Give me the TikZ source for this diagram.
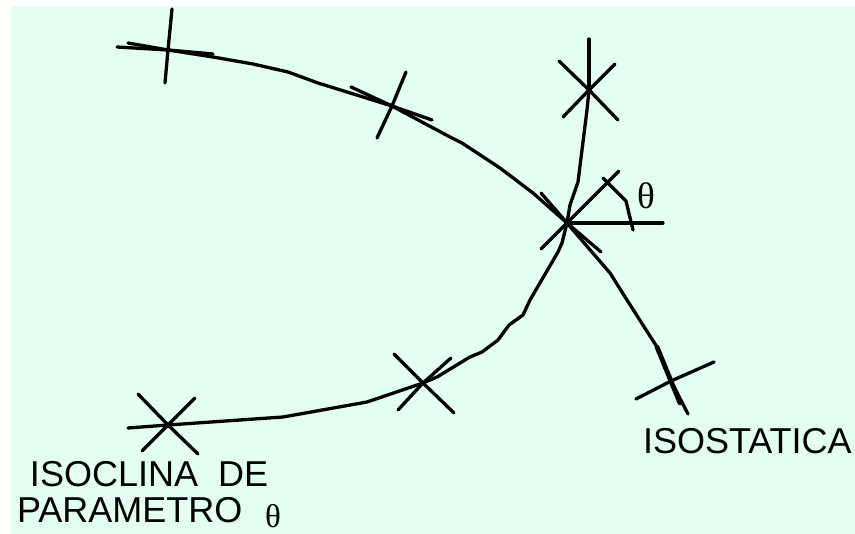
\documentclass[tikz,border=0pt]{standalone}
\usepackage{fontspec}
\setmainfont{Liberation Sans}
\newfontfamily\thetafont{Liberation Serif}
\definecolor{panel}{HTML}{E3FFF1}
\tikzset{
  ln/.style={line width=3.3pt,line cap=round,line join=round,black},
  lbl/.style={anchor=base west,inner sep=0pt,outer sep=0pt,font=\fontsize{36}{36}\selectfont},
  thetalbl/.style={anchor=center,inner sep=0pt,outer sep=0pt,font=\thetafont\fontsize{37}{37}\selectfont},
  thetasmall/.style={thetalbl,font=\thetafont\fontsize{33}{33}\selectfont}
}
\begin{document}
\begin{tikzpicture}[x=1pt,y=-1pt]
\useasboundingbox (0,0) rectangle (855,534);
\fill[panel] (11,6) rectangle (855,534);
% named crossing points
\coordinate (tl) at (168,50);
\coordinate (tm) at (392,106);
\coordinate (tr) at (589,90);
\coordinate (c) at (567,223);
\coordinate (br) at (671,381);
\coordinate (bm) at (423,383);
\coordinate (bl) at (168,425);
% isostatic curve, top left to bottom right
\draw[ln] (117,47) -- (tl) -- (213,57) -- (253,64) -- (288,72) -- (318,83) -- (363,97) -- (tm) -- (450,137) -- (462,143) -- (500,168) -- (533,193) -- (c) -- (585,244) -- (610,273) -- (627,300) -- (657,347) -- (br) -- (688,414);
\draw[ln,line width=4.8pt] (657,347) -- (680,403);
% curve from top right marker to bottom left marker
\draw[ln] (tr) -- (587,110) -- (578,182) -- (570,205) -- (c) -- (562,243) -- (558,252) -- (530,300) -- (523,315) -- (509,325) -- (498,340) -- (482,352) -- (470,357) -- (437,377) -- (bm) -- (367,402) -- (283,417) -- (bl) -- (128,428);
% top left marker
\draw[ln] (172,9) -- (tl) -- (165,83);
\draw[ln] (128,43) -- (tl) -- (213,54);
% top middle marker
\draw[ln] (351,87) -- (tm) -- (432,120);
\draw[ln] (406,72) -- (tm) -- (377,138);
% top right marker
\draw[ln] (589,39) -- (tr);
\draw[ln] (559,61) -- (tr) -- (618,120);
\draw[ln] (615,64) -- (tr) -- (563,117);
% centre marker
\draw[ln] (541,193) -- (c) -- (601,252);
\draw[ln] (619,171) -- (c) -- (541,249);
\draw[ln] (c) -- (663,223);
\draw[ln] (603,178) -- (626,201) -- (633,230);
% bottom right marker
\draw[ln] (636,399) -- (br) -- (714,362);
% bottom middle marker
\draw[ln] (394,354) -- (bm) -- (454,413);
\draw[ln] (451,358) -- (bm) -- (398,410);
% bottom left marker
\draw[ln] (138,394) -- (bl) -- (198,454);
\draw[ln] (195,398) -- (bl) -- (142,451);
% labels
\node[thetalbl] (t1) at (646,196) {θ};
\node[lbl] (iso) at (643,454) {ISOSTATICA};
\node[lbl] (l1) at (30,487) {ISOCLINA\ \ DE};
\node[lbl] (l2) at (17,523) {PARAMETRO};
\node[thetasmall] (t2) at (273,516) {θ};
\end{tikzpicture}
\end{document}
